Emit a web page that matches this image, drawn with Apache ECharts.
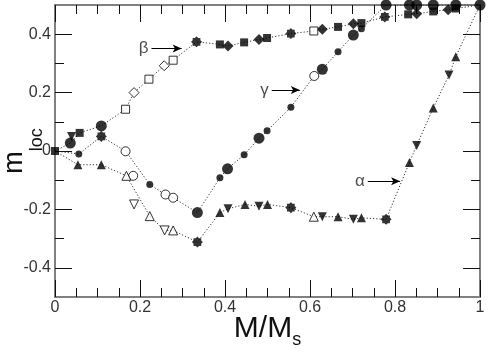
<!DOCTYPE html>
<html>
<head>
<meta charset="utf-8">
<script src="https://cdn.jsdelivr.net/npm/echarts@6/dist/echarts.min.js"></script>
<style>html,body{margin:0;padding:0;background:#fff;}#c{width:491px;height:352px;}</style>
</head>
<body>
<div id="c"></div>
<script>
// ---- data ----
const xTicks = [0, 0.2, 0.4, 0.6, 0.8, 1];
const yMajor = [-0.4, -0.2, 0, 0.2, 0.4];
const yMinor = [-0.3, -0.1, 0.1, 0.3];

const betaLine = [[0,0],[0.036,0.027],[0.058,0.062],[0.109,0.086],[0.166,0.143],[0.186,0.2],[0.221,0.246],[0.257,0.292],[0.278,0.311],[0.333,0.374],[0.388,0.365],[0.407,0.36],[0.445,0.372],[0.48,0.382],[0.499,0.387],[0.555,0.402],[0.609,0.411],[0.629,0.417],[0.666,0.425],[0.702,0.436],[0.721,0.438],[0.776,0.459],[0.831,0.468],[0.851,0.47],[0.89,0.478],[0.925,0.484],[0.943,0.488],[1,0.5]];
const gammaLine = [[0,0],[0.056,-0.01],[0.109,0.05],[0.166,0],[0.223,-0.115],[0.26,-0.149],[0.278,-0.16],[0.335,-0.211],[0.388,-0.092],[0.406,-0.061],[0.445,-0.013],[0.48,0.044],[0.499,0.069],[0.555,0.15],[0.61,0.257],[0.629,0.28],[0.666,0.34],[0.702,0.397],[0.721,0.419],[0.779,0.5],[0.834,0.5],[0.851,0.5],[0.89,0.5],[0.943,0.5],[1,0.5]];
const alphaLine = [[0,0],[0.054,-0.047],[0.109,-0.047],[0.168,-0.085],[0.223,-0.223],[0.258,-0.272],[0.278,-0.272],[0.335,-0.312],[0.388,-0.211],[0.407,-0.198],[0.447,-0.183],[0.48,-0.189],[0.5,-0.183],[0.555,-0.194],[0.609,-0.225],[0.629,-0.225],[0.666,-0.225],[0.702,-0.234],[0.721,-0.229],[0.779,-0.234],[0.834,-0.039],[0.851,0.019],[0.89,0.147],[0.927,0.26],[0.943,0.323],[1,0.5]];

const filledSquare = [[0,0],[0.058,0.062],[0.388,0.365],[0.445,0.372],[0.499,0.387],[0.666,0.425],[0.721,0.438],[0.831,0.468],[0.89,0.478],[0.943,0.488]];
const filledDiamond = [[0.407,0.36],[0.48,0.382],[0.629,0.417],[0.702,0.436],[0.851,0.47],[0.925,0.484]];
const openSquare = [[0.166,0.143],[0.221,0.246],[0.278,0.311],[0.609,0.411]];
const openDiamond = [[0.186,0.2],[0.257,0.292]];
const filledStar = [[0.109,0.05],[0.333,0.374],[0.555,0.402],[0.776,0.459],[0.335,-0.312],[0.555,-0.194],[0.779,-0.234]];
const bigCircle = [[0.036,0.027],[0.109,0.086],[0.335,-0.211],[0.406,-0.061],[0.48,0.044],[0.629,0.28],[0.702,0.397],[0.779,0.5],[0.834,0.5],[0.851,0.5],[0.89,0.5],[0.943,0.5],[1,0.5]];
const smallCircle = [[0.056,-0.01],[0.223,-0.115],[0.388,-0.092],[0.445,-0.013],[0.499,0.069],[0.555,0.15],[0.666,0.34],[0.721,0.419]];
const openCircle = [[0.166,-0.001],[0.184,-0.085],[0.26,-0.149],[0.278,-0.16],[0.61,0.257]];
const filledTriangle = [[0.054,-0.047],[0.109,-0.047],[0.388,-0.211],[0.447,-0.183],[0.5,-0.183],[0.666,-0.225],[0.721,-0.229],[0.834,-0.039],[0.89,0.147],[0.943,0.323]];
const filledDownTriangle = [[0.039,0.05],[0.407,-0.198],[0.48,-0.189],[0.629,-0.225],[0.702,-0.234],[0.851,0.019],[0.927,0.26]];
const openTriangle = [[0.168,-0.085],[0.223,-0.223],[0.278,-0.272],[0.609,-0.225]];
const openDownTriangle = [[0.186,-0.183],[0.258,-0.272]];

const annLabels = ['β', 'γ', 'α'];
const annStart = [[0.227,0.351],[0.51,0.209],[0.736,-0.104]];
const annEnd = [[0.298,0.351],[0.576,0.209],[0.812,-0.104]];

// ---- chart ----
const FONT = 'Liberation Sans, Arial, sans-serif';
const frameLine = {show: true, onZero: false, lineStyle: {color: '#808080', width: 2}};
const starPath = 'path://M0,-10 L3,-7 L7,-7 L7,-3 L10,0 L7,3 L7,7 L3,7 L0,10 L-3,7 L-7,7 L-7,3 L-10,0 L-7,-3 L-7,-7 L-3,-7 Z';

function xAxis(pos, labels) {
  return {
    type: 'value', position: pos, min: 0, max: 1, interval: 0.2,
    axisLine: frameLine,
    axisTick: {show: true, inside: true, length: 17, lineStyle: {color: '#111', width: 1}},
    minorTick: {show: true, splitNumber: 4, length: 9, lineStyle: {color: '#111', width: 1}},
    splitLine: {show: false}, minorSplitLine: {show: false},
    axisLabel: labels ? {show: true, margin: 3, fontSize: 16, color: '#333', fontFamily: FONT,
      customValues: xTicks, formatter: v => String(v)} : {show: false},
    name: labels ? '{a|M/M}{b|s}' : '',
    nameLocation: 'middle', nameGap: 17, nameMoveOverlap: false,
    nameTextStyle: {color: '#111', fontFamily: FONT,
      rich: {a: {fontSize: 30, lineHeight: 30, verticalAlign: 'top', fontFamily: FONT, color: '#111'},
             b: {fontSize: 18, lineHeight: 18, verticalAlign: 'top', padding: [17,0,0,0], fontFamily: FONT, color: '#111'}}}
  };
}
function yAxis(pos, vals, len, labels) {
  return {
    type: 'value', position: pos, min: -0.5, max: 0.5,
    axisLine: frameLine,
    axisTick: {show: true, inside: true, length: len, customValues: vals, lineStyle: {color: '#111', width: 1}},
    splitLine: {show: false},
    axisLabel: labels ? {show: true, margin: 4, fontSize: 16, color: '#333', fontFamily: FONT,
      customValues: yMajor, formatter: v => String(Math.round(v * 10) / 10)} : {show: false},
    name: labels ? '{a|m}{b|loc}' : '',
    nameLocation: 'middle', nameGap: 27, nameRotate: 90, nameMoveOverlap: false,
    nameTextStyle: {color: '#111', fontFamily: FONT,
      rich: {a: {fontSize: 27, lineHeight: 27, verticalAlign: 'top', fontFamily: FONT, color: '#111'},
             b: {fontSize: 18, lineHeight: 18, verticalAlign: 'top', padding: [27,0,0,0], fontFamily: FONT, color: '#111'}}}
  };
}

function lineSeries(data) {
  return {type: 'line', data: data, symbol: 'none', silent: true, z: 1,
    lineStyle: {color: '#333', width: 1, type: [1.2, 2]}};
}
function markSeries(data, symbol, size, open, rotate) {
  return {type: 'scatter', data: data, symbol: symbol, symbolSize: size, symbolRotate: rotate || 0, z: 3,
    itemStyle: open ? {color: '#fff', borderColor: '#000', borderWidth: 1} : {color: '#000', borderColor: '#000', borderWidth: 0}};
}

const series = [
  lineSeries(betaLine), lineSeries(gammaLine), lineSeries(alphaLine),
  markSeries(filledSquare, 'rect', 8, false),
  markSeries(filledDiamond, 'diamond', 11, false),
  markSeries(openSquare, 'rect', 8, true),
  markSeries(openDiamond, 'diamond', 10, true),
  markSeries(filledStar, starPath, 11, false),
  markSeries(bigCircle, 'circle', 11, false),
  markSeries(smallCircle, 'circle', 7, false),
  markSeries(openCircle, 'circle', 9, true),
  markSeries(filledTriangle, 'triangle', 9, false),
  markSeries(filledDownTriangle, 'triangle', 9, false, 180),
  markSeries(openTriangle, 'triangle', 9, true),
  markSeries(openDownTriangle, 'triangle', 9, true, 180),
  {
    type: 'scatter', symbolSize: 0, z: 4, silent: true,
    data: annLabels.map((t, i) => ({name: t, value: annStart[i]})),
    label: {show: true, position: 'left', distance: 3, formatter: p => p.name,
      fontSize: 17, color: '#222', fontFamily: FONT},
    markLine: {
      silent: true, symbol: ['none', 'arrow'], symbolSize: [6, 9],
      lineStyle: {color: '#000', width: 1, type: 'solid'}, label: {show: false},
      animation: false,
      data: annLabels.map((t, i) => [{coord: annStart[i]}, {coord: annEnd[i]}])
    }
  }
];

const chart = echarts.init(document.getElementById('c'), null, {renderer: 'canvas'});
chart.setOption({
  animation: false,
  backgroundColor: '#fff',
  grid: {left: 55, right: 11, top: 5, bottom: 55, containLabel: false, outerBoundsMode: 'none'},
  xAxis: [xAxis('bottom', true), xAxis('top', false)],
  yAxis: [yAxis('left', yMajor, 17, true), yAxis('left', yMinor, 9, false),
          yAxis('right', yMajor, 17, false), yAxis('right', yMinor, 9, false)],
  series: series
});
</script>
</body>
</html>
